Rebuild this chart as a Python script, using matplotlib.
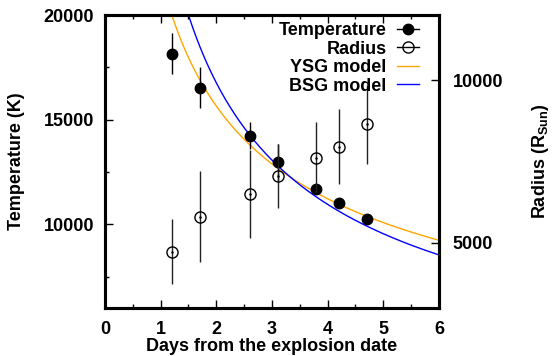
import matplotlib
matplotlib.use('Agg')
import matplotlib.pyplot as plt
import numpy as np
from matplotlib.lines import Line2D

plt.rcParams['font.family'] = ['Liberation Sans', 'DejaVu Sans']
plt.rcParams['font.weight'] = 'bold'
plt.rcParams['axes.labelweight'] = 'bold'
plt.rcParams['font.size'] = 13
plt.rcParams['mathtext.fontset'] = 'custom'
plt.rcParams['mathtext.rm'] = 'Liberation Sans:bold'

# Temperatura (eje izquierdo)
days_T = [1.2, 1.7, 2.6, 3.1, 3.8, 4.2, 4.7]
temp = [18150, 16530, 14230, 12970, 11670, 11030, 10230]
temp_err = [980, 990, 650, 880, 200, 200, 200]

# Radio (eje derecho)
days_R = [1.2, 1.7, 2.6, 3.1, 3.8, 4.2, 4.7]
radius = [4730, 5800, 6500, 7060, 7610, 7960, 8640]
radius_err = [990, 1400, 1360, 980, 1090, 1150, 1220]

# Modelos T = T0 * (t / t0)^-alpha
ysg_T0, ysg_t0, ysg_alpha = 20000, 1.2, 0.48
bsg_T0, bsg_t0, bsg_alpha = 20000, 1.5, 0.614

fig = plt.figure(figsize=(5.52, 3.56), dpi=100)
ax = fig.add_axes([0.1902, 0.1348, 0.605, 0.823])

t = np.linspace(1.0, 6.0, 400)
ax.plot(t, ysg_T0 * (t / ysg_t0) ** (-ysg_alpha), color='#FFA500', lw=1.0, zorder=2)
ax.plot(t, bsg_T0 * (t / bsg_t0) ** (-bsg_alpha), color='#0000FF', lw=1.0, zorder=2)

ax.errorbar(days_T, temp, yerr=temp_err, fmt='o', color='black', ms=7.5,
            elinewidth=1.0, capsize=0, zorder=3)

ax.set_xlim(0, 6)
ax.set_ylim(6000, 20000)
ax.set_xticks(range(7))
ax.set_xticks(np.arange(0.5, 6, 1.0), minor=True)
ax.set_yticks([10000, 15000, 20000])
ax.set_yticks([7500, 12500, 17500], minor=True)
ax.tick_params(which='both', direction='in', top=True, right=False, width=1)
ax.tick_params(which='major', length=6)
ax.tick_params(which='minor', length=3)
ax.tick_params(axis='y', pad=8)
ax.tick_params(axis='x', pad=9)
ax.set_xlabel('Days from the explosion date', labelpad=0)
ax.set_ylabel('Temperature (K)', labelpad=13)

ax2 = ax.twinx()
ax2.errorbar(days_R, radius, yerr=radius_err, fmt='o', mfc='none', mec='black',
             ms=8, mew=1.0, ecolor='#222222', elinewidth=1.0, capsize=0, zorder=3)
ax2.plot(days_R, radius, '.', color='black', ms=1.5, zorder=4)
ax2.set_ylim(3000, 12000)
ax2.set_yticks([5000, 10000])
ax2.tick_params(direction='in', length=6, width=1, pad=10)
ax2.set_ylabel('Radius (R$_{\\mathrm{Sun}}$)', labelpad=19)

for a in (ax, ax2):
    for s in a.spines.values():
        s.set_linewidth(2.2)

handles = [
    Line2D([], [], color='black', marker='o', ms=7.5, lw=1.0),
    Line2D([], [], color='black', marker='o', mfc='none', ms=8, mew=1.0, lw=1.0),
    Line2D([], [], color='#FFA500', lw=1.0),
    Line2D([], [], color='#0000FF', lw=1.0),
]
labels = ['Temperature', 'Radius', 'YSG model', 'BSG model']
ax2.legend(handles, labels, loc='upper right', bbox_to_anchor=(0.94, 0.975),
           frameon=False, markerfirst=False, handlelength=1.2, handletextpad=0.6,
           labelspacing=0.08, borderaxespad=0, borderpad=0)

plt.savefig('out.png', dpi=100)
